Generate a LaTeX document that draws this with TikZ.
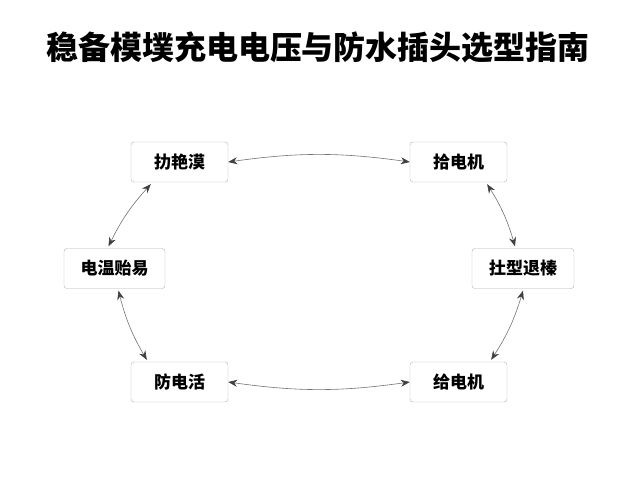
\documentclass[tikz,border=0pt]{standalone}
\usepackage{fontspec}
\newfontfamily\cjk{Noto Sans CJK SC}
\usetikzlibrary{arrows.meta}
\begin{document}
\begin{tikzpicture}[x=1pt,y=-1pt,
    box/.style={draw=black!30,rounded corners=3pt,fill=white,minimum width=97pt,minimum height=40pt,font=\cjk\bfseries\fontsize{17}{19}\selectfont},
    link/.style={draw=black!55,line width=0.6pt,{Stealth[length=9pt,width=7pt,black!75]}-{Stealth[length=9pt,width=7pt,black!75]}}]
  \useasboundingbox (0,0) rectangle (640,480);
  \node[font=\cjk\bfseries\fontsize{32}{36}\selectfont] (title) at (318,47) {稳备模墣充电电压与防水插头选型指南};
  \node[box] (tl) at (179.5,162) {扐艳漠};
  \node[box] (tr) at (458.5,162) {拾电机};
  \node[box,minimum width=101pt] (ml) at (114.5,268.5) {电温贻易};
  \node[box,minimum width=102pt] (mr) at (523,268.5) {扗型退榛};
  \node[box] (bl) at (179.5,382) {防电活};
  \node[box] (br) at (458.5,382) {给电机};
  \draw[link] (tl.east) to[bend left=8] (tr.west);
  \draw[link] (bl.east) to[bend right=8] (br.west);
  \draw[link] ([xshift=20pt,yshift=-2pt]tl.south west) to[bend right=8] ([xshift=-6pt,yshift=2pt]ml.north);
  \draw[link] ([xshift=4pt,yshift=-2pt]ml.south) to[bend right=8] ([xshift=16pt,yshift=2pt]bl.north west);
  \draw[link] ([xshift=-20pt,yshift=-2pt]tr.south east) to[bend left=8] ([xshift=-8pt,yshift=2pt]mr.north);
  \draw[link] ([xshift=0pt,yshift=-2pt]mr.south) to[bend left=8] ([xshift=-16pt,yshift=2pt]br.north east);
\end{tikzpicture}
\end{document}
